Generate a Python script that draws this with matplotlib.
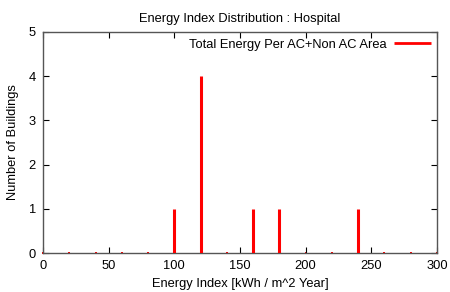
import matplotlib.pyplot as plt

plt.rcParams['font.family'] = ['Liberation Sans', 'DejaVu Sans']

# energy index bins and building counts
energy = [0, 20, 40, 60, 80, 100, 120, 140, 160, 180, 200, 220, 240, 260, 280, 300]
counts = [0, 0, 0, 0, 0, 1, 4, 0, 1, 1, 0, 0, 1, 0, 0, 0]

fig = plt.figure(figsize=(4.5, 2.92), dpi=100)
ax = fig.add_axes([43 / 450, 1 - 253 / 292, (437 - 43) / 450, (253 - 32) / 292])

nz_x = [e for e, c in zip(energy, counts) if c > 0]
nz_y = [c for c in counts if c > 0]
z_x = [e for e, c in zip(energy, counts) if c == 0]
z_y = [c for c in counts if c == 0]

ax.vlines(nz_x, 0, nz_y, color='red', linewidth=2.2,
          label='Total Energy Per AC+Non AC Area', zorder=3)
ax.plot(z_x, z_y, 's', color='red', ms=1.8, mew=0, zorder=1, clip_on=False)

ax.set_xlim(0, 300)
ax.set_ylim(0, 5)
ax.set_xticks(range(0, 301, 50))
ax.set_yticks(range(0, 6))
ax.tick_params(direction='in', top=True, right=True, length=4, width=0.8,
               labelsize=9.3, pad=5)
for s in ax.spines.values():
    s.set_color('#555555')
    s.set_linewidth(1)
    s.set_zorder(2)

ax.set_title('Energy Index Distribution : Hospital', fontsize=9.3, pad=7)
ax.set_xlabel('Energy Index [kWh / m^2 Year]', fontsize=9.3, labelpad=4)
ax.set_ylabel('Number of Buildings', fontsize=9.3, labelpad=7)

ax.legend(loc='upper right', frameon=False, fontsize=9.3, markerfirst=False,
          handlelength=2.8, borderaxespad=0.1, handletextpad=0.6)
ax.get_legend().legend_handles[0].set_linewidth(2)

plt.savefig('out.png', dpi=100)
